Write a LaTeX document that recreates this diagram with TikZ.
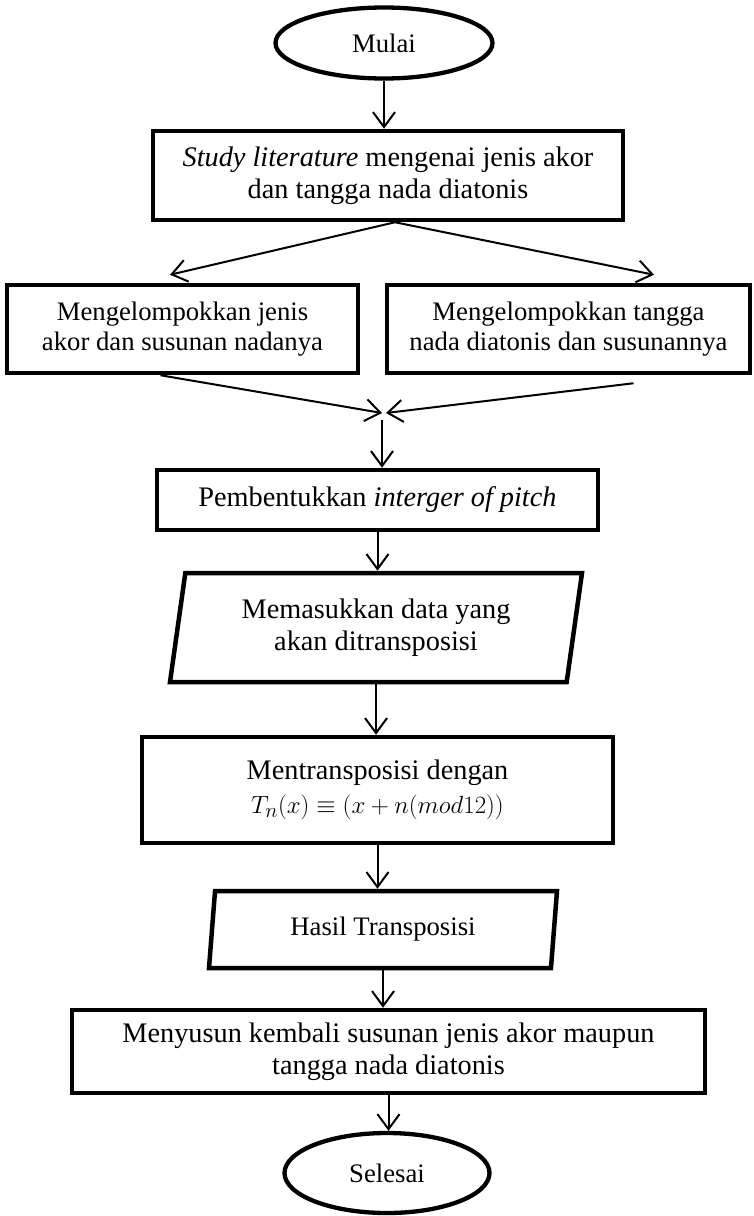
\documentclass[tikz,border=0pt]{standalone}
\usepackage{fontspec}
\setmainfont{Liberation Serif}
\usetikzlibrary{arrows.meta,shapes.geometric,calc}
\newcommand{\tms}{\fontsize{26.7}{30}\selectfont}
\newcommand{\cmb}{\fontsize{28.3}{31.5}\selectfont}
\begin{document}
\begin{tikzpicture}[x=1pt,y=-1pt,
  every node/.style={align=center, inner sep=0pt},
  term/.style={draw, line width=4.3pt, ellipse, font=\tms},
  proc/.style={draw, line width=4.5pt, rectangle},
  io/.style={draw, line width=4.5pt, trapezium, trapezium stretches body},
  flow/.style={line width=2pt, -{Straight Barb[length=15pt,width=22pt,line width=2pt]}},
]
\useasboundingbox (0,0) rectangle (754,1216);

\node[term, minimum width=217pt, minimum height=71pt] (start) at (384,43) {Mulai};
\node[proc, font=\cmb, minimum width=470pt, minimum height=89pt] (b1) at (388,175.5)
  {\textit{Study literature} mengenai jenis akor\\dan tangga nada diatonis};
\node[proc, font=\tms, minimum width=351pt, minimum height=88pt] (lb) at (182.5,329)
  {Mengelompokkan jenis\\akor dan susunan nadanya};
\node[proc, font=\tms, minimum width=363pt, minimum height=88pt] (rb) at (568.5,329)
  {Mengelompokkan tangga\\nada diatonis dan susunannya};
\coordinate (m) at (382,413);
\node[proc, font=\cmb, minimum width=441pt, minimum height=60pt] (pb) at (377.5,500)
  {Pembentukkan \textit{interger of pitch}};
\node[io, font=\cmb, minimum width=412pt, minimum height=109pt,
  trapezium left angle=75, trapezium right angle=105] (p1) at (376,627.5)
  {Memasukkan data yang\\akan ditransposisi};
\node[proc, font=\cmb, minimum width=471pt, minimum height=106pt] (mt) at (377.5,790)
  {Mentransposisi dengan\\[3pt]{\fontsize{31.5}{31.5}\selectfont$T_n(x)\equiv(x+n(mod12))$}};
\node[io, font=\tms, minimum width=348pt, minimum height=77pt,
  trapezium left angle=76, trapezium right angle=104] (p2) at (383,929.5)
  {Hasil Transposisi};
\node[proc, font=\cmb, minimum width=633pt, minimum height=83pt] (mk) at (388.5,1051.5)
  {Menyusun kembali susunan jenis akor maupun\\tangga nada diatonis};
\node[term, minimum width=205pt, minimum height=80pt] (end) at (387,1173) {Selesai};

\draw[flow] (start.south) -- (start.south |- b1.north);
\draw[flow] ([xshift=7pt]b1.south) -- ([xshift=-12.5pt,yshift=8pt]lb.north);
\draw[flow] ([xshift=7pt]b1.south) -- ([xshift=85.5pt,yshift=8pt]rb.north);
\draw[flow] ([xshift=-22pt]lb.south) -- (m);
\draw[flow] ([xshift=65pt,yshift=-8pt]rb.south) -- ([xshift=4pt]m);
\draw[flow, shorten <=7pt] (m) -- (m |- pb.north);
\draw[flow] (pb.south) -- (pb.south |- p1.north);
\draw[flow] (p1.south) -- (p1.south |- mt.north);
\draw[flow] (mt.south) -- (mt.south |- p2.north);
\draw[flow] (p2.south) -- (p2.south |- mk.north);
\draw[flow] (mk.south) -- (mk.south |- end.north);
\end{tikzpicture}
\end{document}
